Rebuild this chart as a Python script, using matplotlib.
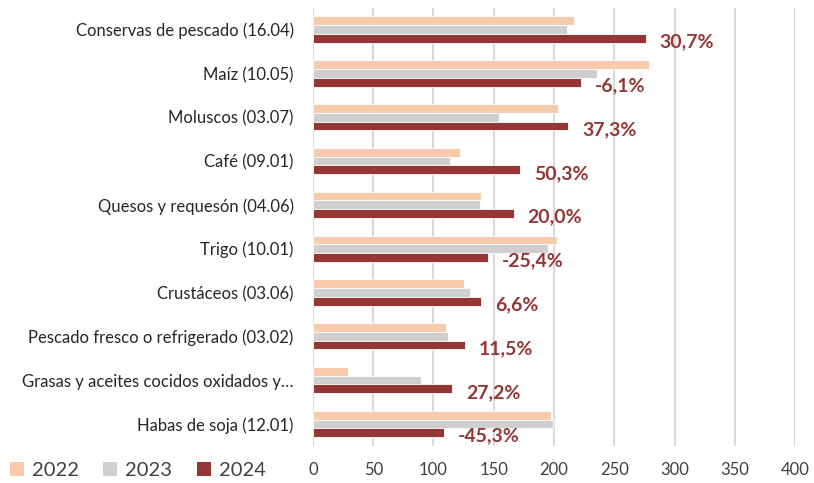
import numpy as np
import matplotlib.pyplot as plt
from matplotlib.patches import Patch

plt.rcParams['font.family'] = ['Lato', 'DejaVu Sans']

categories = ['Conservas de pescado (16.04)', 'Maíz (10.05)', 'Moluscos (03.07)',
              'Café (09.01)', 'Quesos y requesón (04.06)', 'Trigo (10.01)',
              'Crustáceos (03.06)', 'Pescado fresco o refrigerado (03.02)',
              'Grasas y aceites cocidos oxidados y…', 'Habas de soja (12.01)']
v2022 = [216.5, 279, 203.5, 122, 139.5, 202.5, 125, 110, 29, 197.5]
v2023 = [211, 235.5, 154.5, 114, 138.5, 195, 130, 112, 90, 199.5]
v2024 = [276, 222, 212, 172, 166.5, 145.5, 139.5, 126, 115.5, 109]
changes = ['30,7%', '-6,1%', '37,3%', '50,3%', '20,0%', '-25,4%', '6,6%', '11,5%', '27,2%', '-45,3%']
years = ['2022', '2023', '2024']
colors = ['#F8CBAD', '#D0CECE', '#943634']

fig = plt.figure(figsize=(8.14, 4.83), dpi=100)
ax = fig.add_axes([0.3845, 0.077, 0.5922, 0.907])

y = np.arange(len(categories))
h = 0.2
for i, (vals, c) in enumerate(zip([v2022, v2023, v2024], colors)):
    ax.barh(y + (i - 1) * h, vals, height=h, color=c, edgecolor='white', linewidth=0.6, zorder=3)

for yi, v, lab in zip(y, v2024, changes):
    ax.annotate(lab, (v, yi + h), xytext=(10, -2.5), textcoords='offset points',
                ha='left', va='center', fontsize=14, fontweight='bold', color='#943634', zorder=4)

ax.set_xlim(0, 400)
ax.set_ylim(len(categories) - 0.5, -0.5)
ax.set_xticks(np.arange(0, 401, 50))
ax.set_yticks(y)
ax.set_yticklabels(categories, fontsize=12, color='#262626')
ax.tick_params(axis='x', labelsize=12, length=0, pad=12, colors='#404040')
ax.tick_params(axis='y', length=0, pad=14)
ax.grid(axis='x', color='#D9D9D9', linewidth=1.5, zorder=0)
for s in ax.spines.values():
    s.set_visible(False)

handles = [Patch(facecolor=c, label=yr) for c, yr in zip(colors, years)]
fig.legend(handles=handles, loc='lower left', bbox_to_anchor=(-0.01, -0.03), ncol=3, frameon=False,
           fontsize=14.5, handlelength=0.7, handleheight=0.7, handletextpad=0.4, columnspacing=1.2,
           labelcolor='#404040')

fig.savefig('out.png', dpi=100)
